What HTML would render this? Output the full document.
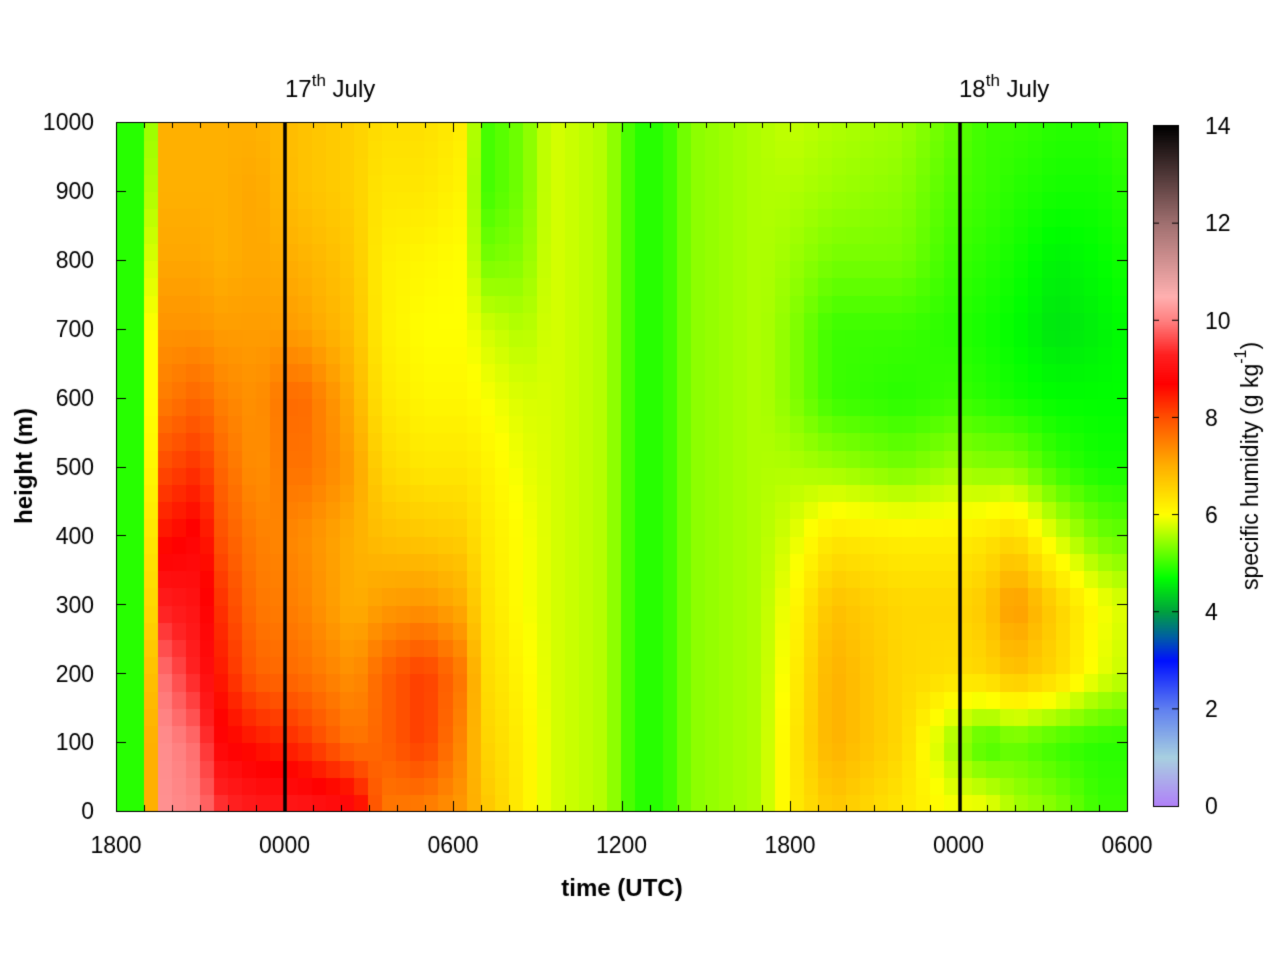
<!DOCTYPE html>
<html><head><meta charset="utf-8"><style>
body{margin:0;background:#fff;width:1280px;height:960px;overflow:hidden;font-family:"Liberation Sans",sans-serif}
canvas{position:absolute;left:0;top:0}
</style></head><body>
<canvas id="c" width="1280" height="960"></canvas>
<script>
const cv=document.getElementById('c'),g=cv.getContext('2d');
g.fillStyle='#fff';g.fillRect(0,0,1280,960);
const cm=[[0,'#b080f8'],[1,'#a8d0e0'],[2,'#6080f0'],[3,'#0010ff'],[3.5,'#0060a0'],[4,'#00a040'],[4.7,'#00ff00'],[6,'#ffff00'],[7,'#ffb000'],[8,'#ff5000'],[8.7,'#ff0000'],[9.3,'#ff2020'],[10,'#ff8080'],[10.5,'#ffb0b0'],[12,'#a07070'],[14,'#000000']];
function hx(s){return [parseInt(s.substr(1,2),16),parseInt(s.substr(3,2),16),parseInt(s.substr(5,2),16)];}
function col(v){v=Math.max(0,Math.min(14,v));for(let i=0;i<cm.length-1;i++){if(v<=cm[i+1][0]){const f=(v-cm[i][0])/(cm[i+1][0]-cm[i][0]);const a=hx(cm[i][1]),b=hx(cm[i+1][1]);return 'rgb('+a.map((x,k)=>Math.round(x+(b[k]-x)*f)).join(',')+')';}}return '#000';}
const F=n=>Array(11).fill(n);
const K=[
[0,F(4.9)],[1.0,F(4.9)],
[1.25,[7,7,6.8,6.5,6.3,6.1,6,6,5.8,5.6,5.5]],
[1.5,[10.2,10.2,10,9.3,8.5,8,7.5,7.3,7.1,7,7]],
[3.0,[10,9.8,9.2,9,8.8,8.3,7.8,7.3,7.1,7,7]],
[3.7,[9.5,8.8,8.5,8.3,8,7.8,7.5,7.2,7,7,7]],
[5,[9.2,8.5,7.8,7.6,7.5,7.3,7.3,7.2,7.1,7.1,7]],
[6.5,[9.2,8.3,7.7,7.5,7.4,7.7,7.8,7.2,7,6.8,6.8]],
[8.5,[9.0,7.6,7.3,7.0,7.0,7.2,7,6.8,6.7,6.6,6.6]],
[9.5,[7.6,7.8,7.8,7.2,6.8,6.5,6.3,6.2,6.2,6.3,6.4]],
[11,[7.5,8.2,8.2,7.3,6.7,6.3,6.1,6.0,6.1,6.3,6.4]],
[12.5,[7.2,7.3,7.5,7,6.6,6.3,6.1,6.0,6.0,6.1,6.2]],
[13,[6.8,6.6,6.5,6.4,6.3,6.2,6,5.8,5.3,5,5]],
[14.5,[6.2,6.2,6.1,6,6,5.9,5.8,5.6,5.4,5.3,5.3]],
[15.5,F(5.8)],[17.5,F(5.6)],[18.5,F(4.9)],[19.5,F(4.9)],[20.5,F(5.4)],[23,F(5.6)],
[24,[6.2,6.2,6.1,6,5.8,5.6,5.4,5.4,5.5,5.6,5.7]],
[25.5,[6.7,7,7,6.8,6.3,5.5,5,5,5.3,5.5,5.6]],
[28,[6.3,6.5,6.5,6.5,6.2,5.3,4.9,5,5.3,5.4,5.5]],
[29.8,[6,5.5,6.4,6.5,6.2,5.5,5,4.9,5,5.1,5.2]],
[31,[6,5.0,6.5,6.7,6.3,5.4,4.9,4.8,4.9,5,5]],
[32,[5.6,5.2,6.8,7.3,6.5,5.4,4.8,4.7,4.8,4.9,5]],
[33.5,[5.4,5.0,6.5,6.6,5.8,5,4.7,4.5,4.6,4.8,4.9]],
[35,[5.0,4.9,5.9,6.0,5.3,4.8,4.7,4.6,4.7,4.8,4.9]],
[36,[5,4.9,5.7,5.8,5.2,4.8,4.7,4.7,4.8,4.9,5]]];
function prof(p,h){const x=h/100,i=Math.min(9,Math.floor(x)),f=x-i;return p[i]+(p[i+1]-p[i])*f;}
function val(t,h){for(let i=0;i<K.length-1;i++){if(t<=K[i+1][0]){const f=(t-K[i][0])/(K[i+1][0]-K[i][0]);return prof(K[i][1],h)*(1-f)+prof(K[i+1][1],h)*f;}}return prof(K[K.length-1][1],h);}
const X0=116,X1=1127,Y0=122,Y1=811,NC=72,NR=40;
const cw=(X1-X0)/NC,rh=(Y1-Y0)/NR;
for(let c=0;c<NC;c++)for(let r=0;r<NR;r++){
 g.fillStyle=col(val((c+0.5)*0.5,(r+0.5)*25));
 g.fillRect(Math.floor(X0+c*cw),Math.floor(Y1-(r+1)*rh),Math.ceil(cw)+1,Math.ceil(rh)+1);}
// colorbar
for(let y=126;y<806;y++){g.fillStyle=col(14*(806-y)/680);g.fillRect(1153,y,25,1);}
g.strokeStyle='#000';g.lineWidth=1;g.strokeRect(1153.5,125.5,25,681);
for(let v=2;v<14;v+=2){const y=806-v/14*680;g.beginPath();g.moveTo(1153,y);g.lineTo(1159,y);g.moveTo(1172,y);g.lineTo(1178,y);g.stroke();}
// frame
g.strokeRect(X0+0.5,Y0+0.5,X1-X0,Y1-Y0);
g.beginPath();
for(let hr=0;hr<=36;hr++){const x=Math.round(X0+hr*(X1-X0)/36)+0.5;const L=hr%6==0?10:6;g.moveTo(x,Y1);g.lineTo(x,Y1-L);g.moveTo(x,Y0);g.lineTo(x,Y0+L);}
for(let h=0;h<=1000;h+=100){const y=Math.round(Y1-h/1000*(Y1-Y0))+0.5;g.moveTo(X0,y);g.lineTo(X0+10,y);g.moveTo(X1,y);g.lineTo(X1-10,y);}
g.stroke();
g.lineWidth=3.5;g.beginPath();g.moveTo(285,Y0);g.lineTo(285,Y1);g.moveTo(960,Y0);g.lineTo(960,Y1);g.stroke();
// labels
g.fillStyle='#000';g.font='23px "Liberation Sans",sans-serif';g.textBaseline='middle';
g.textAlign='right';for(let h=0;h<=1000;h+=100)g.fillText(h,94,Y1-h/1000*(Y1-Y0)+2);
g.textAlign='center';['1800','0000','0600','1200','1800','0000','0600'].forEach((s,i)=>g.fillText(s,X0+i*(X1-X0)/6,847));
g.textAlign='left';for(let v=0;v<=14;v+=2)g.fillText(v,1205,806-v/14*680+2);
g.font='bold 24px "Liberation Sans",sans-serif';g.textAlign='center';g.fillText('time (UTC)',622,889);
g.save();g.translate(25,466);g.rotate(-Math.PI/2);g.fillText('height (m)',0,0);g.restore();
g.save();g.translate(1252,466);g.rotate(-Math.PI/2);g.textAlign='left';
const fa='23px "Liberation Sans",sans-serif',fs='16px "Liberation Sans",sans-serif';
const p1='specific humidity (g kg',p2='-1',p3=')';
g.font=fa;const w1=g.measureText(p1).width,w3=g.measureText(p3).width;g.font=fs;const w2=g.measureText(p2).width;
let x=-(w1+w2+w3)/2;g.font=fa;g.fillText(p1,x,0);x+=w1;g.font=fs;g.fillText(p2,x,-10);x+=w2;g.font=fa;g.fillText(p3,x,0);
g.restore();
function sup(x,a,b){g.font='24px "Liberation Sans",sans-serif';g.textAlign='left';g.fillText(a,x,90);let w=g.measureText(a).width;g.font='17px "Liberation Sans",sans-serif';g.fillText('th',x+w,81);let w2=g.measureText('th').width;g.font='24px "Liberation Sans",sans-serif';g.fillText(b,x+w+w2,90);}
sup(285,'17',' July');sup(959,'18',' July');
</script>
</body></html>
